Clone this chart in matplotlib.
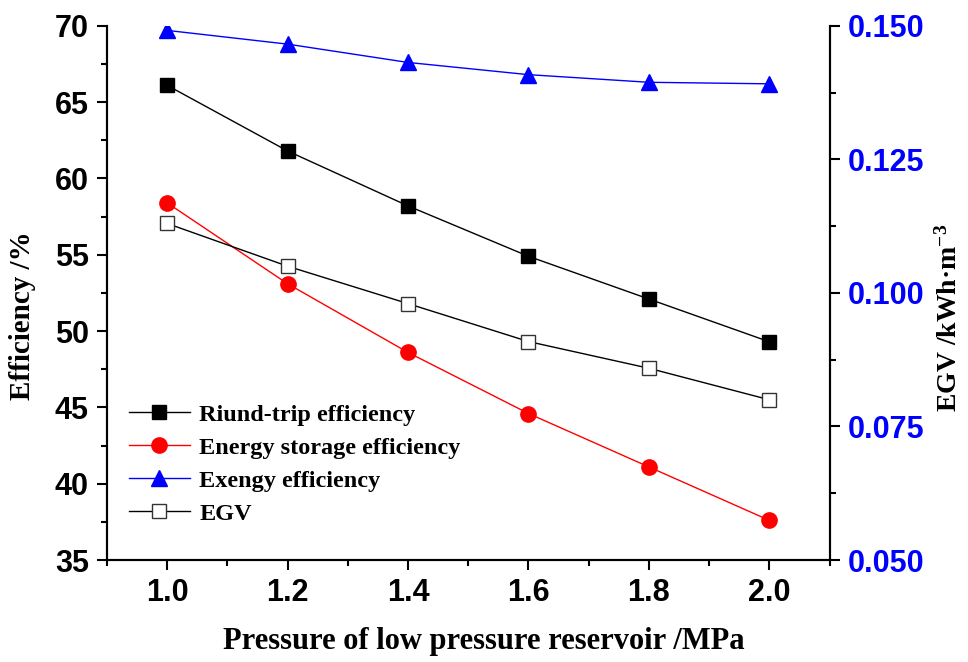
import matplotlib
matplotlib.use("Agg")
import matplotlib.pyplot as plt
from matplotlib.ticker import MultipleLocator

pressure = [1.0, 1.2, 1.4, 1.6, 1.8, 2.0]
round_trip = [66.1, 61.8, 58.2, 54.9, 52.1, 49.3]
energy_storage = [58.4, 53.1, 48.6, 44.6, 41.1, 37.6]
exergy = [69.7, 68.8, 67.6, 66.8, 66.3, 66.2]
egv = [0.113, 0.105, 0.098, 0.0909, 0.0859, 0.080]
egv_ticks = [0.050, 0.075, 0.100, 0.125, 0.150]

serif = "Liberation Serif"
sans = "Liberation Sans"

plt.rcParams["mathtext.fontset"] = "custom"
plt.rcParams["mathtext.rm"] = "Liberation Serif:bold"
plt.rcParams["mathtext.bf"] = "Liberation Serif:bold"
plt.rcParams["mathtext.default"] = "bf"

fig = plt.figure(figsize=(9.68, 6.62), dpi=100)
ax = fig.add_axes([0.1105, 0.154, 0.7465, 0.807])
ax2 = ax.twinx()

l1, = ax.plot(pressure, round_trip, color="black", lw=1, marker="s", ms=10,
              mfc="black", mec="black", label="Riund-trip efficiency")
l2, = ax.plot(pressure, energy_storage, color="red", lw=1, marker="o", ms=11,
              mfc="red", mec="red", label="Energy storage efficiency")
l3, = ax.plot(pressure, exergy, color="blue", lw=1, marker="^", ms=12,
              mfc="blue", mec="blue", label="Exengy efficiency")
l4, = ax2.plot(pressure, egv, color="black", lw=1, marker="s", ms=10,
               mfc="white", mec="#333333", label="EGV")

ax.set_xlim(0.9, 2.1)
ax.set_ylim(35, 70)
ax2.set_ylim(0.050, 0.150)

ax.xaxis.set_major_locator(MultipleLocator(0.2))
ax.xaxis.set_minor_locator(MultipleLocator(0.1))
ax.yaxis.set_major_locator(MultipleLocator(5))
ax.yaxis.set_minor_locator(MultipleLocator(2.5))
ax2.yaxis.set_major_locator(MultipleLocator(0.025))
ax2.yaxis.set_minor_locator(MultipleLocator(0.0125))

for a in (ax, ax2):
    a.spines["top"].set_visible(False)
    for s in a.spines.values():
        s.set_linewidth(1.5)
ax.tick_params(which="major", direction="out", length=7, width=1.5, pad=6)
ax.tick_params(which="minor", direction="out", length=4, width=1.5)
ax2.tick_params(which="major", direction="out", length=7, width=1.5, pad=6)
ax2.tick_params(which="minor", direction="out", length=4, width=1.5)

ax.set_xticks(pressure)
ax.set_xticklabels(["%.1f" % p for p in pressure])
for lab in ax.get_xticklabels() + ax.get_yticklabels():
    lab.set_fontfamily(sans)
    lab.set_fontweight("bold")
    lab.set_fontsize(22)
ax2.set_yticks(egv_ticks)
ax2.set_yticklabels(["%.3f" % v for v in egv_ticks])
for lab in ax2.get_yticklabels():
    lab.set_fontfamily(sans)
    lab.set_fontweight("bold")
    lab.set_fontsize(22)
    lab.set_color("blue")

ax.set_xlabel("Pressure of low pressure reservoir /MPa", fontfamily=serif,
              fontweight="bold", fontsize=22)
ax.xaxis.set_label_coords(0.521, -0.125)
ax.set_ylabel("Efficiency /%", fontfamily=serif, fontweight="bold", fontsize=21)
ax.yaxis.set_label_coords(-0.098, 0.457)
ax2.set_ylabel("EGV /kWh\u00b7m$^{-3}$", fontfamily=serif, fontweight="bold",
               fontsize=20)
ax2.yaxis.set_label_coords(1.148, 0.453)

leg = ax.legend(handles=[l1, l2, l3, l4], loc="lower left", bbox_to_anchor=(0.0, 0.025),
                frameon=False, handlelength=2.5, handletextpad=0.4, labelspacing=0.45,
                prop={"family": serif, "weight": "bold", "size": 17.5})

fig.savefig("out.png", dpi=100)
